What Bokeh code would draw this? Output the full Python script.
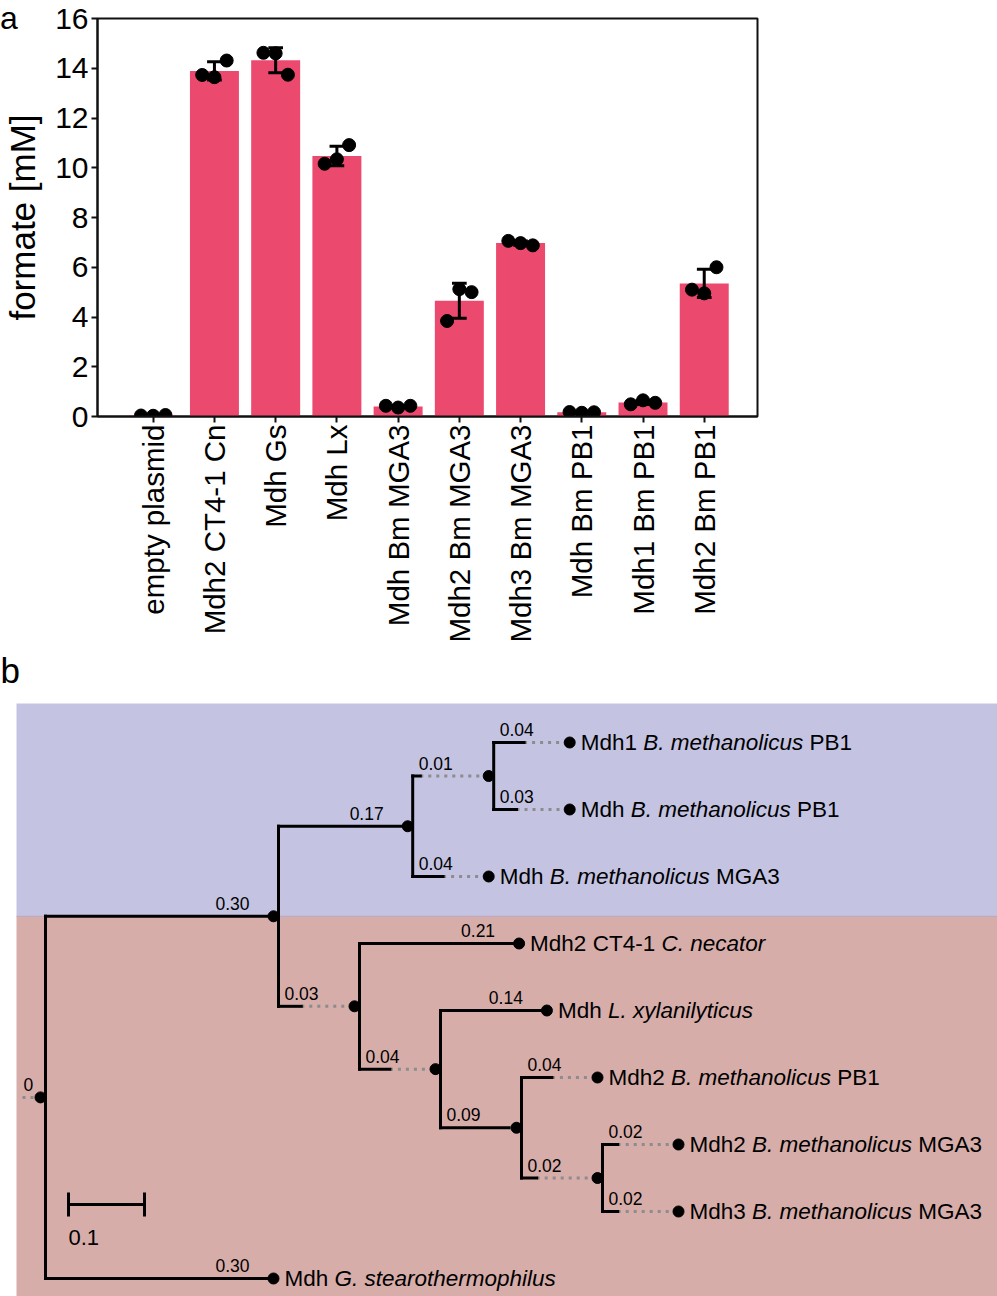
import numpy as np
from bokeh.plotting import figure
from bokeh.models import Range1d, FixedTicker, Div
from bokeh.core.properties import value
from bokeh.embed import file_html
from bokeh.resources import INLINE

FONT = "Liberation Sans"

# ---------------- panel a data ----------------
categories = ["empty plasmid", "Mdh2 CT4-1 Cn", "Mdh Gs", "Mdh Lx", "Mdh Bm MGA3",
              "Mdh2 Bm MGA3", "Mdh3 Bm MGA3", "Mdh Bm PB1", "Mdh1 Bm PB1", "Mdh2 Bm PB1"]
rep1 = [0.04, 13.73, 14.62, 10.16, 0.43, 3.84, 7.06, 0.18, 0.49, 5.10]
rep2 = [0.03, 13.64, 14.60, 10.34, 0.36, 5.12, 6.97, 0.15, 0.65, 4.95]
rep3 = [0.06, 14.31, 13.74, 10.91, 0.43, 5.00, 6.88, 0.17, 0.55, 6.00]
y_ticks = [0, 2, 4, 6, 8, 10, 12, 14, 16]

# ---------------- panel b data (tree) ----------------
node_name = ["root", "c1", "c2", "c3", "L1", "L2", "L3", "c4", "L4", "c5", "L5",
             "c6", "L6", "c7", "L7", "L8", "L9"]
node_parent = [None, "root", "c1", "c2", "c3", "c3", "c2", "c1", "c4", "c4", "c5",
               "c5", "c6", "c6", "c7", "c7", "root"]
branch_len = [0.0, 0.30, 0.17, 0.01, 0.04, 0.03, 0.04, 0.03, 0.21, 0.04, 0.14,
              0.09, 0.04, 0.02, 0.02, 0.02, 0.30]
leaf_id = ["L1", "L2", "L3", "L4", "L5", "L6", "L7", "L8", "L9"]
leaf_prefix = ["Mdh1 ", "Mdh ", "Mdh ", "Mdh2 CT4-1 ", "Mdh ", "Mdh2 ", "Mdh2 ", "Mdh3 ", "Mdh "]
leaf_species = ["B. methanolicus", "B. methanolicus", "B. methanolicus", "C. necator",
                "L. xylanilyticus", "B. methanolicus", "B. methanolicus", "B. methanolicus",
                "G. stearothermophilus"]
leaf_strain = [" PB1", " PB1", " MGA3", "", "", " PB1", " MGA3", " MGA3", ""]
scale_bar_len = 0.1

# ---------------- styling ----------------
BAR = "#EC496F"
BLUE = "#C4C4E2"
PINK = "#D7ADA9"
GREY = "#8C8C8C"
W = 997
HA = 645
HB = 1296 - HA

# Arial / Liberation Sans advance widths (1/1000 em)
AW = {' ': 278, '.': 278, '-': 333, '0': 556, '1': 556, '2': 556, '3': 556, '4': 556,
      'A': 667, 'B': 667, 'C': 722, 'G': 778, 'L': 556, 'M': 833, 'P': 667, 'T': 611,
      'a': 556, 'c': 500, 'd': 556, 'e': 556, 'h': 556, 'i': 222, 'l': 222, 'm': 833,
      'n': 556, 'o': 556, 'p': 556, 'r': 333, 's': 500, 't': 278, 'u': 556, 'x': 500,
      'y': 500}


def tw(s, size):
    return sum(AW.get(ch, 556) for ch in s) * size / 1000.0


# ================= panel a =================
reps = np.array([rep1, rep2, rep3])
means = reps.mean(axis=0)
sds = reps.std(axis=0, ddof=1)
idx = np.arange(len(categories))
lo = means - sds
hi = means + sds

pa = figure(width=W, height=HA, output_backend="svg", toolbar_location=None,
            x_range=Range1d(-0.91, 9.87), y_range=Range1d(0, 16),
            min_border_left=97, min_border_right=W - 757, min_border_top=18,
            min_border_bottom=HA - 419)
pa.xgrid.visible = False
pa.ygrid.visible = False
pa.outline_line_color = "#111111"
pa.outline_line_width = 2
pa.background_fill_color = "white"

pa.vbar(x=idx, top=means, width=0.8, fill_color=BAR, line_color=None)
cap = 0.12
pa.segment(x0=idx, y0=lo, x1=idx, y1=hi, line_color="black", line_width=3)
pa.segment(x0=idx - cap, y0=hi, x1=idx + cap, y1=hi, line_color="black", line_width=3)
pa.segment(x0=idx - cap, y0=lo, x1=idx + cap, y1=lo, line_color="black", line_width=3)
for off, r in zip([-0.2, 0.0, 0.2], [rep1, rep2, rep3]):
    pa.scatter(x=idx + off, y=r, size=13, fill_color="black", line_color="black")

pa.xaxis.ticker = FixedTicker(ticks=[int(i) for i in idx])
pa.xaxis.major_label_overrides = {int(i): c for i, c in zip(idx, categories)}
pa.xaxis.major_label_orientation = np.pi / 2
pa.yaxis.ticker = FixedTicker(ticks=y_ticks)
for ax in (pa.xaxis[0], pa.yaxis[0]):
    ax.axis_line_width = 2
    ax.axis_line_color = "#111111"
    ax.major_tick_line_width = 2
    ax.major_tick_line_color = "#111111"
    ax.major_tick_out = 6
    ax.major_tick_in = 0
    ax.minor_tick_line_color = None
    ax.major_label_text_font = FONT
    ax.major_label_text_color = "black"
pa.xaxis.major_label_text_font_size = "29.5px"
pa.yaxis.major_label_text_font_size = "30px"
pa.xaxis.major_label_standoff = 2
pa.yaxis.major_label_standoff = 3
pa.yaxis.axis_label = "formate [mM]"
pa.yaxis.axis_label_text_font = FONT
pa.yaxis.axis_label_text_font_size = "35px"
pa.yaxis.axis_label_text_font_style = "normal"
pa.yaxis.axis_label_text_color = "black"
pa.yaxis.axis_label_standoff = 10

# panel letter a (outside the plot frame, so placed as page text above the canvas)
letter_a = Div(text='<span style="font-family: \'Liberation Sans\'; font-size: 32px; '
                    'line-height: 1; color: black;">a</span>',
               styles={"position": "absolute", "left": "0px", "top": "2px", "margin": "0px",
                       "z-index": "10"})

# ================= panel b =================
SCALE = 760.0       # px per substitution unit
ROW_PX = 67.0       # px per leaf row
MIN_LEN = 0.10      # minimal drawn branch length (short ones continue dotted)
GAP = 5 / SCALE     # node dot sits just left of its vertical connector
STUB = 18 / SCALE
ROW0_FY = 97        # screen y of first leaf row inside panel b

xb0 = -45 / SCALE
pb = figure(width=W, height=HB, output_backend="svg", toolbar_location=None,
            x_range=Range1d(xb0, xb0 + W / SCALE),
            y_range=Range1d((HB - ROW0_FY) / ROW_PX, -ROW0_FY / ROW_PX),
            x_axis_location=None, y_axis_location=None, min_border=0)
pb.xgrid.visible = False
pb.ygrid.visible = False
pb.outline_line_color = None
pb.background_fill_color = "white"

blen = dict(zip(node_name, branch_len))
children = {n: [] for n in node_name}
for n, par in zip(node_name, node_parent):
    if par is not None:
        children[par].append(n)

row = {}
counter = [0]


def assign(n):
    if not children[n]:
        row[n] = float(counter[0])
        counter[0] += 1
    else:
        for c in children[n]:
            assign(c)
        row[n] = (row[children[n][0]] + row[children[n][-1]]) / 2.0


assign("root")

vert = {"root": 0.0}
end = {"root": -GAP}
pvert = {"root": -GAP - STUB}


def place(n):
    for c in children[n]:
        L = blen[c]
        pvert[c] = vert[n]
        end[c] = vert[n] + max(L, MIN_LEN)
        vert[c] = end[c] + GAP
        place(c)


place("root")

# background clades
x_left_bg = xb0 + 16 / SCALE
x_right_bg = xb0 + W / SCALE + 0.1
split = row["c1"]
pb.quad(left=[x_left_bg], right=[x_right_bg], top=[-39 / ROW_PX], bottom=[split],
        fill_color=BLUE, line_color=None)
pb.quad(left=[x_left_bg], right=[x_right_bg], top=[split], bottom=[counter[0] + 2],
        fill_color=PINK, line_color=None)
pb.segment(x0=[x_left_bg], x1=[x_right_bg], y0=[split], y1=[split],
           line_color="#B7A6C0", line_width=1)

# branches
sol_x0, sol_x1, sol_y = [], [], []
dot_x0, dot_x1, dot_y = [pvert["root"]], [end["root"]], [row["root"]]
lab_x, lab_y, lab_t, lab_off, lab_align = [], [], [], [], []
lab_x.append(pvert["root"]); lab_y.append(row["root"]); lab_t.append("0"); lab_off.append(1)
lab_align.append("left")
for n in node_name:
    if n == "root":
        continue
    L = blen[n]
    sol_x0.append(pvert[n])
    sol_x1.append(pvert[n] + L if L < MIN_LEN else end[n])
    sol_y.append(row[n])
    if L < MIN_LEN:
        dot_x0.append(pvert[n] + L)
        dot_x1.append(end[n])
        dot_y.append(row[n])
        lab_x.append(pvert[n]); lab_off.append(6); lab_align.append("left")
    else:
        lab_x.append(end[n]); lab_off.append(-24); lab_align.append("right")
    lab_y.append(row[n])
    lab_t.append(f"{L:.2f}")

pb.segment(x0=dot_x0, x1=dot_x1, y0=dot_y, y1=dot_y, line_color=GREY, line_width=3,
           line_dash="3 5")
pb.segment(x0=sol_x0, x1=sol_x1, y0=sol_y, y1=sol_y, line_color="black", line_width=3,
           line_cap="square")
vx, vy0, vy1 = [], [], []
for n in node_name:
    if children[n]:
        vx.append(vert[n])
        vy0.append(row[children[n][0]])
        vy1.append(row[children[n][-1]])
pb.segment(x0=vx, x1=vx, y0=vy0, y1=vy1, line_color="black", line_width=3, line_cap="square")

pb.scatter(x=[end[n] for n in node_name], y=[row[n] for n in node_name], size=11,
           fill_color="black", line_color="black")

for al in ("left", "right"):
    sel = [i for i, a in enumerate(lab_align) if a == al]
    pb.text(x=[lab_x[i] for i in sel], y=[lab_y[i] for i in sel],
            text=[lab_t[i] for i in sel], x_offset=[lab_off[i] for i in sel], y_offset=-13,
            text_align=al, text_baseline="middle", text_font=value(FONT),
            text_font_size="17.5px", text_color="black")

# leaf labels (regular / italic / regular)
LF = 22.5
lx = [end[l] for l in leaf_id]
ly = [row[l] for l in leaf_id]
off1 = [11.0] * len(leaf_id)
off2 = [11.0 + tw(p, LF) for p in leaf_prefix]
off3 = [o + tw(s, LF) for o, s in zip(off2, leaf_species)]
for txt, off, style in ((leaf_prefix, off1, "normal"), (leaf_species, off2, "italic"),
                        (leaf_strain, off3, "normal")):
    pb.text(x=lx, y=ly, text=[t.strip() for t in txt],
            x_offset=[o + (tw(" ", LF) if t.startswith(" ") else 0) for o, t in zip(off, txt)],
            text_align="left", text_baseline="middle", text_font=value(FONT),
            text_font_size=f"{LF}px", text_font_style=style, text_color="black")

# scale bar
SB_X = 23 / SCALE
SB_ROW = 462 / ROW_PX
cap_r = 12 / ROW_PX
pb.segment(x0=[SB_X], x1=[SB_X + scale_bar_len], y0=[SB_ROW], y1=[SB_ROW],
           line_color="black", line_width=3)
pb.segment(x0=[SB_X, SB_X + scale_bar_len], x1=[SB_X, SB_X + scale_bar_len],
           y0=[SB_ROW - cap_r] * 2, y1=[SB_ROW + cap_r] * 2, line_color="black", line_width=3)
pb.text(x=[SB_X], y=[SB_ROW], text=[f"{scale_bar_len:g}"], y_offset=33, text_align="left",
        text_baseline="middle", text_font=value(FONT), text_font_size="22px",
        text_color="black")

# panel letter b
pb.text(x=[xb0], y=[-72 / ROW_PX], text=["b"], text_align="left", text_baseline="middle",
        text_font=value(FONT), text_font_size="35px", text_color="black")

open("out.html", "w").write(file_html([letter_a, pa, pb], INLINE))
